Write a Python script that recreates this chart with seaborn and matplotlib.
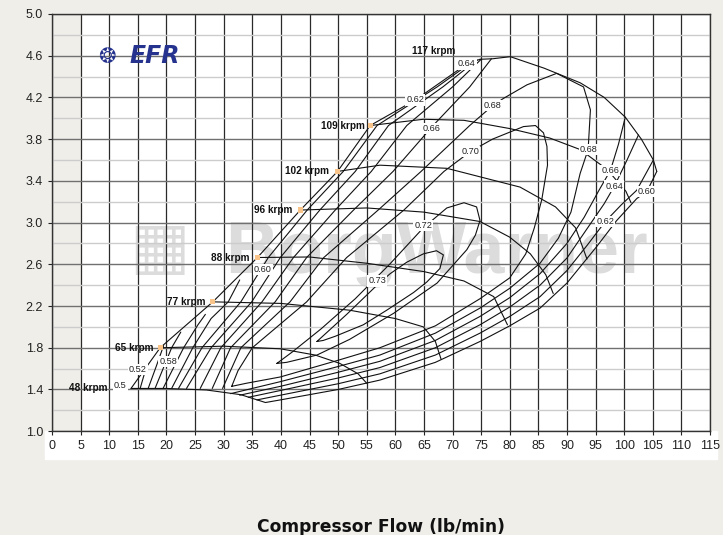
import numpy as np
import pandas as pd
import matplotlib
matplotlib.use('Agg')
import matplotlib.pyplot as plt
import seaborn as sns
from matplotlib.ticker import MultipleLocator, FormatStrFormatter
from matplotlib.patches import Rectangle

# ---- speed lines (flow lb/min, pressure ratio) ----
spd_48 = [(13.8, 1.41), (20, 1.41), (27, 1.395), (33, 1.35), (37.3, 1.275)]
spd_65 = [(18.9, 1.80), (30, 1.815), (39.9, 1.79), (46, 1.73), (50.3, 1.65), (53.5, 1.55), (55, 1.46)]
spd_77 = [(28.1, 2.24), (40, 2.225), (52, 2.16), (60, 2.08), (64.9, 2.0), (67, 1.86), (68, 1.69)]
spd_88 = [(35.9, 2.665), (45, 2.67), (55, 2.61), (65, 2.53), (72, 2.44), (77.2, 2.29), (79.6, 2.02)]
spd_96 = [(43.4, 3.12), (55, 3.14), (65, 3.10), (74.8, 3.01), (80, 2.86), (83.6, 2.70), (86.3, 2.50), (87.6, 2.32)]
spd_102 = [(49.9, 3.49), (57.3, 3.55), (69, 3.52), (81.8, 3.34), (88, 3.15), (91.5, 2.95), (93.5, 2.65)]
spd_109 = [(55.6, 3.93), (64.9, 3.99), (72, 3.98), (80.1, 3.90), (87, 3.81), (92.3, 3.70),
           (97, 3.51), (100.3, 3.30), (101.2, 3.19)]
spd_117 = [(74.8, 4.565), (77, 4.57), (80.1, 4.59), (86, 4.48), (92.3, 4.34), (96.5, 4.20),
           (100.2, 4.01), (103, 3.80), (105.1, 3.60), (105.7, 3.49)]
surge = [(13.8, 1.41), (18.9, 1.80), (28.1, 2.24), (35.9, 2.665), (43.4, 3.12), (49.9, 3.49),
         (55.6, 3.93), (63.5, 4.175), (72.5, 4.52), (74.8, 4.565)]

speed_names = ['48 krpm', '65 krpm', '77 krpm', '88 krpm', '96 krpm', '102 krpm', '109 krpm', '117 krpm']

# ---- efficiency islands ----
eff_50 = [(15.4, 1.41), (16.4, 1.60)]
eff_52 = [(16.8, 1.41), (18.2, 1.62), (19.5, 1.82)]
eff_54 = [(18.0, 1.41), (20.9, 1.80), (22.5, 1.95)]
eff_56 = [(19.4, 1.41), (23.0, 1.80), (25.5, 2.02), (26.8, 2.12)]
eff_58 = [(20.9, 1.41), (24.6, 1.80), (27.8, 2.08), (30.8, 2.24), (32.8, 2.45)]
eff_60_up = [(22.1, 1.41), (26.2, 1.80), (33.0, 2.24), (37.8, 2.665), (44.6, 3.12), (50.9, 3.49),
             (56.8, 3.93), (67.3, 4.30), (73.8, 4.555)]
eff_62_up = [(23.5, 1.41), (27.8, 1.80), (34.9, 2.24), (39.9, 2.665), (46.8, 3.12), (53.0, 3.49),
             (58.8, 3.93), (68.3, 4.30), (74.3, 4.56)]
eff_64_up = [(25.9, 1.41), (29.5, 1.80), (36.7, 2.24), (42.2, 2.665), (49.5, 3.12), (55.8, 3.49),
             (62.0, 3.93), (70.0, 4.30), (75.0, 4.565)]
eff_66_up = [(28.0, 1.41), (31.2, 1.80), (39.0, 2.24), (44.5, 2.665), (52.7, 3.12), (59.6, 3.49),
             (66.6, 3.93), (73.0, 4.30), (76.8, 4.57)]
eff_60_low = [(37.3, 1.275), (39.9, 1.30), (50, 1.40), (57.3, 1.49), (67, 1.66), (74.8, 1.86), (80, 2.01),
              (85.3, 2.18), (90, 2.42), (95.2, 2.77), (98.7, 3.02), (102.2, 3.23), (104.0, 3.30),
              (104.8, 3.39), (105.7, 3.49)]
eff_62_low = [(35.8, 1.30), (39.9, 1.345), (50, 1.455), (57.3, 1.55), (67, 1.73), (74.8, 1.94), (80, 2.10),
              (85.3, 2.29), (90, 2.54), (93.5, 2.78), (96.7, 3.01), (99.5, 3.17), (102.2, 3.31), (105.1, 3.60)]
eff_64_low = [(34.3, 1.325), (39.9, 1.39), (50, 1.51), (57.3, 1.61), (67, 1.80), (74.8, 2.02), (80, 2.19),
              (85.3, 2.40), (90, 2.66), (94, 2.98), (96.5, 3.18), (98.3, 3.35), (100.5, 3.60), (102.5, 3.84)]
eff_66_low = [(32.8, 1.345), (39.9, 1.43), (50, 1.565), (57.3, 1.67), (67, 1.87), (74.8, 2.10), (80, 2.28),
              (85.3, 2.51), (90, 2.80), (93, 3.05), (95.5, 3.30), (97.6, 3.50), (99, 3.75), (100.2, 4.01)]
eff_68 = [(29.8, 1.41), (33.0, 1.80), (41.6, 2.24), (47.5, 2.665), (57.0, 3.12), (64.5, 3.49), (73.0, 3.93),
          (77.0, 4.12), (78.9, 4.19), (83.0, 4.32), (88.2, 4.43), (92.9, 4.30), (94.1, 4.08), (93.7, 3.70),
          (92.3, 3.47), (90.7, 3.10), (88.5, 2.85), (85.3, 2.61), (80, 2.37), (74.8, 2.18), (67, 1.94),
          (57.3, 1.73), (50, 1.62), (39.9, 1.475), (31.2, 1.36)]
eff_70 = [(31.4, 1.43), (32.5, 1.58), (35.0, 1.80), (44.5, 2.24), (51.5, 2.665), (61.5, 3.12), (68.5, 3.49),
          (73.1, 3.68), (77, 3.80), (82.4, 3.92), (84.5, 3.93), (85.9, 3.86), (86.5, 3.73), (86.6, 3.55),
          (85.6, 3.22), (84.3, 2.95), (82.8, 2.70), (80, 2.47), (74.8, 2.27), (67, 2.01), (57.3, 1.80),
          (50, 1.68), (39.9, 1.52), (34, 1.46), (31.4, 1.43)]
eff_72 = [(39.3, 1.65), (42, 1.76), (47, 1.98), (53, 2.27), (59, 2.60), (64.9, 2.95), (69, 3.14), (72, 3.19),
          (74.2, 3.15), (74.8, 3.02), (74, 2.88), (72.5, 2.74), (67.3, 2.42), (59.7, 2.13), (52, 1.88),
          (46.3, 1.73), (41, 1.66), (39.3, 1.65)]
eff_73 = [(46.3, 1.86), (48.5, 1.97), (51.5, 2.12), (56.8, 2.40), (59.1, 2.51), (62, 2.62), (64.9, 2.70),
          (67.2, 2.73), (68.4, 2.69), (67.8, 2.56), (65.5, 2.43), (63.2, 2.33), (58.5, 2.16), (54.4, 2.02),
          (49.5, 1.91), (47.4, 1.87), (46.3, 1.86)]

eff_label_text = ['0.5', '0.52', '0.58', '0.60', '0.62', '0.64', '0.66', '0.68', '0.70', '0.72', '0.73',
                  '0.68', '0.66', '0.64', '0.62', '0.60']
eff_label_x = [11.9, 15.0, 20.3, 36.8, 63.5, 72.5, 66.4, 77.0, 73.1, 64.9, 56.8, 93.8, 97.6, 98.3, 96.7, 104.0]
eff_label_y = [1.44, 1.59, 1.67, 2.55, 4.175, 4.52, 3.90, 4.12, 3.68, 2.97, 2.44, 3.70, 3.50, 3.35, 3.01, 3.30]

curves = {
    'spd_48': spd_48, 'spd_65': spd_65, 'spd_77': spd_77, 'spd_88': spd_88, 'spd_96': spd_96,
    'spd_102': spd_102, 'spd_109': spd_109, 'spd_117': spd_117, 'surge': surge,
    'eff_50': eff_50, 'eff_52': eff_52, 'eff_54': eff_54, 'eff_56': eff_56, 'eff_58': eff_58,
    'eff_60_up': eff_60_up, 'eff_62_up': eff_62_up, 'eff_64_up': eff_64_up, 'eff_66_up': eff_66_up,
    'eff_60_low': eff_60_low, 'eff_62_low': eff_62_low, 'eff_64_low': eff_64_low, 'eff_66_low': eff_66_low,
    'eff_68': eff_68, 'eff_70': eff_70, 'eff_72': eff_72, 'eff_73': eff_73,
}
rows = []
for name, pts in curves.items():
    for i, (x, y) in enumerate(pts):
        rows.append((name, i, x, y))
df = pd.DataFrame(rows, columns=['curve', 'order', 'flow', 'pr'])

speed_lines = [spd_48, spd_65, spd_77, spd_88, spd_96, spd_102, spd_109, spd_117]
mark_x = [s[0][0] for s in speed_lines[1:7]]
mark_y = [s[0][1] for s in speed_lines[1:7]]

# ---- plot ----
sns.set_theme(style='white')
plt.rcParams['font.family'] = ['Liberation Sans', 'DejaVu Sans']

bg = '#efeee9'
fig, ax = plt.subplots(figsize=(7.23, 5.35), dpi=100)
fig.patch.set_facecolor(bg)
fig.subplots_adjust(left=0.072, right=0.982, top=0.974, bottom=0.194)
ax.set_facecolor(bg)
ax.axvspan(5, 115, color='white', zorder=0, lw=0)
fig.patches.append(Rectangle((0.062, 1 - 459 / 535), 0.93, 28 / 535, transform=fig.transFigure,
                             color='white', zorder=-1))

# watermark
ax.text(67.1, 2.516, 'BorgWarner', fontsize=53, fontweight='bold', color='#dcdcdc',
        ha='center', va='baseline', zorder=0.2)
ax.text(18.7, 2.75, '\u25a6', fontsize=46, color='#dcdcdc', ha='center', va='center',
        family='DejaVu Sans', zorder=0.2)

sns.lineplot(data=df, x='flow', y='pr', units='curve', estimator=None, sort=False,
             color='#111111', lw=0.8, ax=ax, zorder=2)

sns.scatterplot(x=mark_x, y=mark_y, marker='s', s=14, color='#f8c48a', edgecolor='none', ax=ax, zorder=4)

offsets = [(-17, 0), (-5, 0), (-5, 0), (-6, 0), (-6, 0), (-6, 0), (-4, 0), (-17.5, 6.2)]
for name, line, off in zip(speed_names, speed_lines, offsets):
    ax.annotate(name, line[0], xytext=off, textcoords='offset points', ha='right', va='center',
                fontsize=7.2, fontweight='bold', color='#111111', zorder=5)

for t, x, y in zip(eff_label_text, eff_label_x, eff_label_y):
    ax.text(x, y, t, fontsize=6.6, ha='center', va='center', color='#222222', zorder=5,
            bbox=dict(boxstyle='square,pad=0.12', fc='white', ec='none'))

# EFR logo
ax.text(9.6, 4.585, '\u2742', fontsize=15, color='#25338f', ha='center', va='center',
        family='DejaVu Sans', zorder=5)
ax.text(17.9, 4.6, 'EFR', fontsize=17, fontweight='heavy', fontstyle='italic', color='#25338f',
        ha='center', va='center', family='DejaVu Sans', zorder=5)

ax.set_xlim(0, 115)
ax.set_ylim(1.0, 5.0)
ax.set_xticks(np.arange(0, 116, 5))
ax.set_yticks(np.arange(1.0, 5.01, 0.4))
ax.yaxis.set_major_formatter(FormatStrFormatter('%.1f'))
ax.yaxis.set_minor_locator(MultipleLocator(0.2))
ax.set_axisbelow(True)
ax.grid(axis='x', which='major', color='#2a2a2a', lw=0.9)
ax.grid(axis='y', which='major', color='#707070', lw=1.0)
ax.grid(axis='y', which='minor', color='#cccccc', lw=1.0)
ax.tick_params(axis='both', which='major', labelsize=9, colors='#222222', length=3, width=0.8,
               bottom=True, left=True)
ax.tick_params(which='minor', length=0)
for s in ax.spines.values():
    s.set_color('#333333')
    s.set_linewidth(1.0)

ax.set_ylabel('')
ax.set_xlabel('Compressor Flow (lb/min)', fontsize=12.3, fontweight='bold', labelpad=47,
              family=['DejaVu Sans'], color='#111111')

fig.savefig('out.png', dpi=100, facecolor=fig.get_facecolor())
